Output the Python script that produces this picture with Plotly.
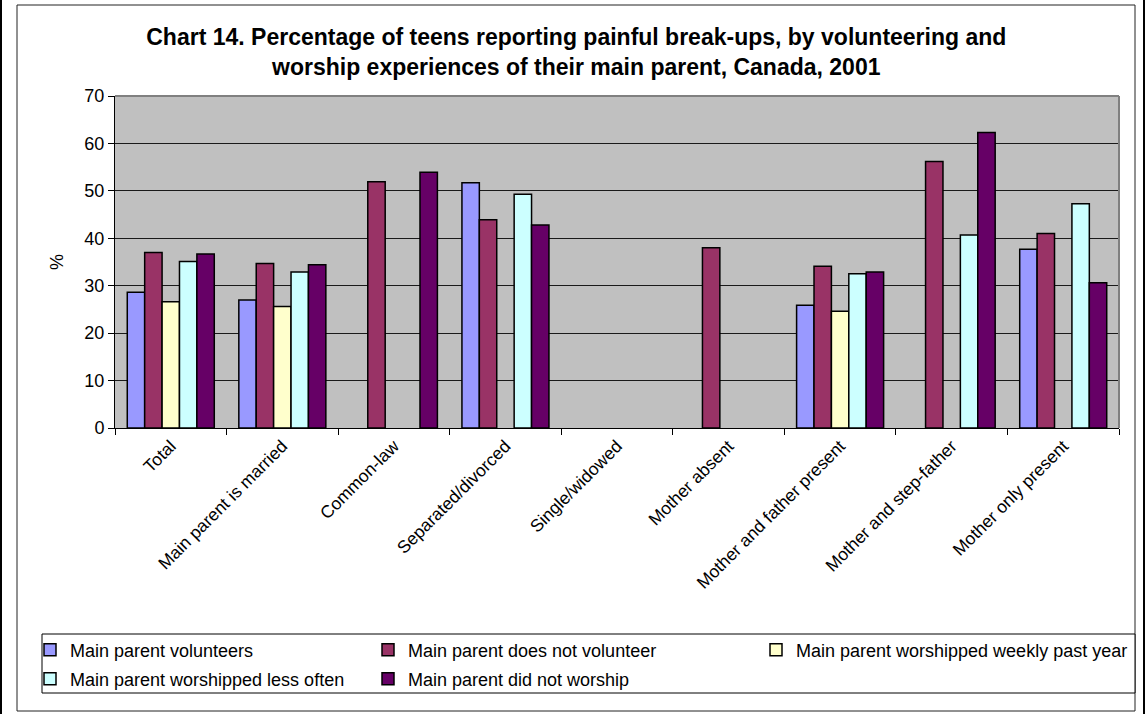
import plotly.graph_objects as go

categories = ["Total", "Main parent is married", "Common-law", "Separated/divorced",
              "Single/widowed", "Mother absent", "Mother and father present",
              "Mother and step-father", "Mother only present"]

series_names = ["Main parent volunteers", "Main parent does not volunteer",
                "Main parent worshipped weekly past year",
                "Main parent worshipped less often", "Main parent did not worship"]

volunteers      = [28.6, 27.0, None, 51.7, None, None, 25.9, None, 37.7]
not_volunteer   = [37.0, 34.7, 51.9, 43.9, None, 38.0, 34.1, 56.2, 41.0]
worship_weekly  = [26.6, 25.6, None, None, None, None, 24.6, None, None]
worship_less    = [35.1, 32.9, None, 49.3, None, None, 32.5, 40.7, 47.3]
did_not_worship = [36.7, 34.4, 53.9, 42.8, None, None, 32.9, 62.3, 30.6]

series_values = [volunteers, not_volunteer, worship_weekly, worship_less, did_not_worship]
colors = ["#9999FF", "#993366", "#FFFFCC", "#CCFFFF", "#660066"]

title_text = ("Chart 14. Percentage of teens reporting painful break-ups, by volunteering and"
              "<br>worship experiences of their main parent, Canada, 2001")

FONT = "Liberation Sans, Arial, sans-serif"
W, H = 1148, 714
L, R, T, B = 115, 29, 96, 286
PW, PH = W - L - R, H - T - B


def px_x(x):
    return (x - L) / PW


def px_y(y):
    return (H - B - y) / PH


legend_names = ["legend", "legend2", "legend3", "legend4", "legend5"]
legend_pos = [(30, 650), (368, 650), (756, 650), (30, 679), (368, 679)]

fig = go.Figure()
for name, vals, col, lg in zip(series_names, series_values, colors, legend_names):
    fig.add_trace(go.Bar(
        x=categories, y=vals, name=name, legend=lg,
        marker=dict(color=col, line=dict(color="black", width=1.5)),
    ))

legend_layout = {}
for lg, (lx, ly) in zip(legend_names, legend_pos):
    legend_layout[lg] = dict(
        x=px_x(lx), y=px_y(ly), xanchor="left", yanchor="middle",
        bgcolor="rgba(0,0,0,0)", borderwidth=0,
        font=dict(family=FONT, size=18, color="black"),
    )

shapes = [
    # chart border
    dict(type="rect", xref="paper", yref="paper",
         x0=px_x(17), x1=px_x(1135), y0=px_y(711), y1=px_y(5),
         line=dict(color="#222222", width=1), layer="below"),
    # legend box
    dict(type="rect", xref="paper", yref="paper",
         x0=px_x(42), x1=px_x(1135), y0=px_y(693), y1=px_y(634),
         line=dict(color="black", width=1), fillcolor="white", layer="below"),
    # page edge lines
    dict(type="line", xref="paper", yref="paper",
         x0=px_x(1), x1=px_x(1), y0=px_y(714), y1=px_y(0),
         line=dict(color="black", width=2)),
    dict(type="line", xref="paper", yref="paper",
         x0=px_x(1144), x1=px_x(1144), y0=px_y(714), y1=px_y(0),
         line=dict(color="black", width=2)),
    # plot area top and right border (grey)
    dict(type="line", xref="paper", yref="paper", x0=0, x1=1, y0=1, y1=1,
         line=dict(color="#808080", width=2)),
    dict(type="line", xref="paper", yref="paper", x0=1, x1=1, y0=0, y1=1,
         line=dict(color="#808080", width=2)),
]

fig.update_layout(
    width=W, height=H,
    margin=dict(l=L, r=R, t=T, b=B, autoexpand=False),
    paper_bgcolor="white", plot_bgcolor="#C0C0C0",
    font=dict(family=FONT, size=18, color="black"),
    title=dict(text=title_text, x=0.502, xanchor="center", xref="container",
               y=1 - 45 / H, yanchor="top", yref="container",
               font=dict(family=FONT, size=23, color="black", weight="bold")),
    barmode="group", bargap=0.22, bargroupgap=0,
    showlegend=True,
    shapes=shapes,
    **legend_layout,
)

fig.update_xaxes(
    type="category", tickson="boundaries", ticks="outside", ticklen=6,
    tickcolor="black", showline=True, linecolor="black", linewidth=1,
    tickangle=-45, showgrid=False, tickfont=dict(family=FONT, size=17.5),
)
fig.update_yaxes(
    range=[0, 70], dtick=10, ticks="outside", ticklen=6, tickcolor="black",
    showline=True, linecolor="black", linewidth=1,
    showgrid=True, gridcolor="#1a1a1a", gridwidth=1, zeroline=False,
    tickfont=dict(family=FONT, size=18),
    title=dict(text="%", font=dict(family=FONT, size=18), standoff=16),
)

fig.write_html("out.html", config={"displayModeBar": False},
               post_script="document.body.style.margin='0';")
